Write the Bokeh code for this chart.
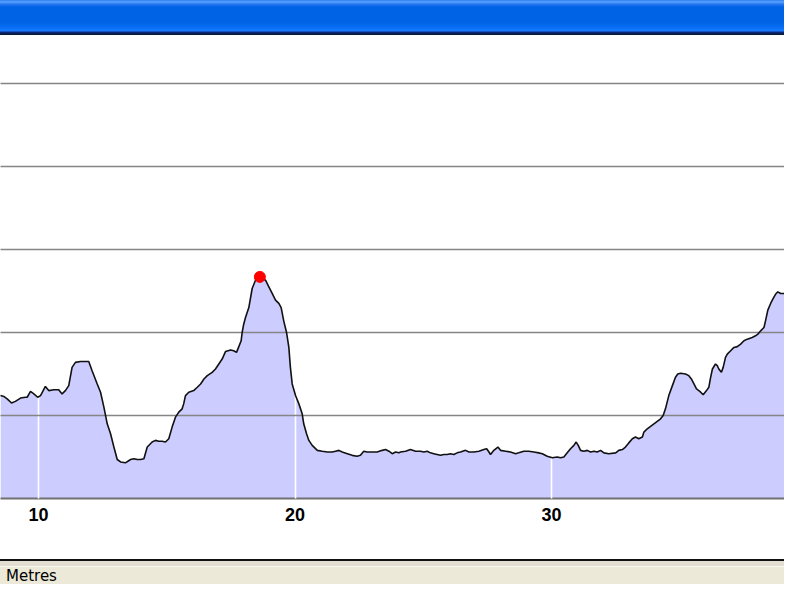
from bokeh.plotting import figure
from bokeh.models import Range1d, FixedTicker, Div, ColumnDataSource
from bokeh.layouts import column
from bokeh.embed import file_html
from bokeh.resources import INLINE

# Distance along route (km) and elevation (metres)
km = [8.52, 8.65, 8.78, 8.95, 9.10, 9.30, 9.49, 9.56, 9.69, 9.82, 9.97, 10.08, 10.27, 10.40, 10.60,
      10.79, 10.92, 11.05, 11.18, 11.31, 11.44, 11.64, 11.96, 12.09, 12.29, 12.42, 12.55, 12.68, 12.81,
      12.94, 13.07, 13.20, 13.39, 13.59, 13.72, 13.85, 13.98, 14.11, 14.24, 14.43, 14.56, 14.69, 14.82,
      14.95, 15.08, 15.21, 15.34, 15.47, 15.60, 15.66, 15.73, 15.86, 16.05, 16.19, 16.32,
      16.45, 16.58, 16.77, 16.90, 17.03, 17.16, 17.29, 17.49, 17.61, 17.72, 17.81, 17.90, 17.94, 18.00,
      18.07, 18.20, 18.33, 18.46, 18.63, 18.85, 18.98, 19.11, 19.24, 19.37, 19.46, 19.56, 19.67, 19.76,
      19.82, 19.89, 20.02, 20.15, 20.28, 20.34, 20.45, 20.54, 20.67, 20.87, 21.06, 21.26, 21.45, 21.58,
      21.71, 21.84, 22.04, 22.23, 22.42, 22.55, 22.68, 22.81, 23.01, 23.20, 23.40, 23.53, 23.66, 23.79,
      23.92, 24.05, 24.11,
      24.31, 24.50, 24.70, 24.89, 25.02, 25.15, 25.28, 25.41, 25.54, 25.67, 25.80, 25.93, 26.06, 26.19,
      26.32, 26.45, 26.65, 26.78, 26.97, 27.17, 27.36, 27.47, 27.56, 27.62, 27.75, 27.91, 28.01, 28.21,
      28.40, 28.60, 28.72, 28.92, 29.11, 29.31, 29.50, 29.64, 29.83, 30.03, 30.22, 30.35, 30.48, 30.61,
      30.74, 30.87, 30.96, 31.04, 31.13, 31.26, 31.39, 31.52, 31.65, 31.78, 31.91,
      32.04, 32.23, 32.50, 32.62, 32.76, 32.88, 33.01, 33.15, 33.27, 33.40, 33.54, 33.60, 33.73, 33.86,
      33.99, 34.12, 34.25, 34.35, 34.44, 34.57, 34.71, 34.83, 34.92, 35.03, 35.22, 35.35, 35.45, 35.55,
      35.65, 35.78, 35.91, 36.04, 36.13, 36.20, 36.27, 36.39, 36.46, 36.52, 36.62, 36.69, 36.78, 36.85,
      36.98, 37.11, 37.24, 37.37, 37.50, 37.63, 37.82, 37.95, 38.04, 38.15, 38.28, 38.34, 38.43, 38.54,
      38.64, 38.73, 38.82, 38.93, 39.06, 39.19, 39.32, 39.45, 39.55, 39.64, 39.71, 39.90]

elev = [124, 123, 120, 115, 117, 121, 122, 122, 129, 126, 122, 124, 135, 130, 131,
        131, 126, 130, 136, 158, 164, 165, 165, 154, 138, 128, 110, 90, 78,
        62, 47, 44, 43, 47, 48, 47, 47, 48, 62, 68, 70, 69, 69,
        68, 72, 86, 98, 104, 108, 114, 124, 128, 130, 134, 138,
        144, 148, 152, 156, 162, 168, 177, 179, 178, 176, 183, 190, 200, 210,
        218, 230, 253, 263, 267, 263, 255, 247, 239, 235, 230, 214, 200, 182,
        158, 138, 124, 114, 102, 90, 78, 70, 64, 58, 57, 56, 56, 57,
        58, 56, 54, 52, 51, 52, 57, 56, 56, 56, 58, 59, 57, 54,
        56, 55, 56,
        57, 59, 57, 57, 56, 57, 55, 54, 53, 52, 53, 53, 54, 53,
        55, 56, 58, 56, 56, 57, 59, 60, 56, 53, 58, 62, 58, 57,
        56, 54, 55, 57, 57, 56, 55, 54, 51, 49, 50, 49, 50, 55,
        60, 64, 68, 64, 58, 57, 58, 56, 57, 56, 58,
        55, 54, 55, 58, 59, 62, 67, 72, 74, 72, 74, 80, 84, 87,
        90, 93, 96, 100, 108, 124, 136, 146, 150, 151, 150, 148, 144, 138,
        132, 129, 125, 130, 134, 146, 156, 162, 160, 156, 152, 158, 170, 174,
        178, 182, 183, 186, 190, 192, 194, 196, 198, 202, 206, 214, 227, 235,
        241, 246, 249, 247, 247, 245, 241, 237, 230, 223, 210, 195]

x_ticks = [0, 10, 20, 30, 40]
y_grid_values = [100, 200, 300, 400, 500]
y_label = "Metres"

W = 784

src = ColumnDataSource(data=dict(km=km, elev=elev, base=[0] * len(km)))

chart = figure(width=W, height=524, output_backend="svg", toolbar_location=None,
               x_range=Range1d(8.52, 39.08), y_range=Range1d(0, 556.6),
               y_axis_location=None,
               min_border_left=0, min_border_right=0, min_border_top=1, min_border_bottom=61,
               background_fill_color="white", border_fill_color="white",
               outline_line_color=None)

chart.varea(x="km", y1="base", y2="elev", source=src, fill_color="#ccccff", fill_alpha=1.0)

line_r = chart.line(x="km", y="elev", source=src, line_color="#111111", line_width=1.6)
line_r.level = "annotation"

i_max = elev.index(max(elev))
pk = chart.scatter(x=[km[i_max]], y=[elev[i_max]], size=11, fill_color="#ff0000",
                   line_color="#ff0000", marker="circle")
pk.level = "annotation"

chart.xaxis.ticker = FixedTicker(ticks=x_ticks)
chart.xaxis.major_tick_line_color = None
chart.xaxis.minor_tick_line_color = None
chart.xaxis.major_tick_in = 0
chart.xaxis.major_tick_out = 0
chart.xaxis.axis_line_color = "#707070"
chart.xaxis.axis_line_width = 2
chart.xaxis.major_label_standoff = 9
chart.xaxis.major_label_text_font = "Liberation Sans"
chart.xaxis.major_label_text_font_style = "bold"
chart.xaxis.major_label_text_font_size = "18px"
chart.xaxis.major_label_text_color = "#000000"

chart.xgrid.ticker = FixedTicker(ticks=x_ticks)
chart.xgrid.grid_line_color = "white"
chart.xgrid.grid_line_width = 1.6
chart.xgrid.level = "guide"

chart.ygrid.ticker = FixedTicker(ticks=y_grid_values)
chart.ygrid.grid_line_color = "#858585"
chart.ygrid.grid_line_width = 1.6
chart.ygrid.level = "guide"

title_bar = Div(text="", width=W, height=35, margin=0,
                styles={"background": "linear-gradient(to bottom, #2f7ff0 0px, #5aa2ff 2px, "
                                      "#2a78f2 4px, #0062e4 7px, #0062e4 22px, #0a70f6 28px, "
                                      "#1a7cff 31px, #0b2c80 32px, #071330 35px)"})

status_bar = Div(text='<div style="font-family:\'DejaVu Sans\';font-size:15px;line-height:15px;'
                      'color:#000;padding-top:10px;padding-left:6px;">' + y_label + '</div>',
                 width=W, height=25, margin=0,
                 styles={"background": "linear-gradient(to bottom, #111 0px, #111 1.5px, "
                                       "#e2dfd2 1.5px, #e2dfd2 7px, #f7f6f0 7px, #f7f6f0 8px, "
                                       "#ece9d8 8px)",
                         "overflow": "hidden"})

p = column(title_bar, chart, status_bar, spacing=0)

open("out.html", "w").write(file_html(p, INLINE))
